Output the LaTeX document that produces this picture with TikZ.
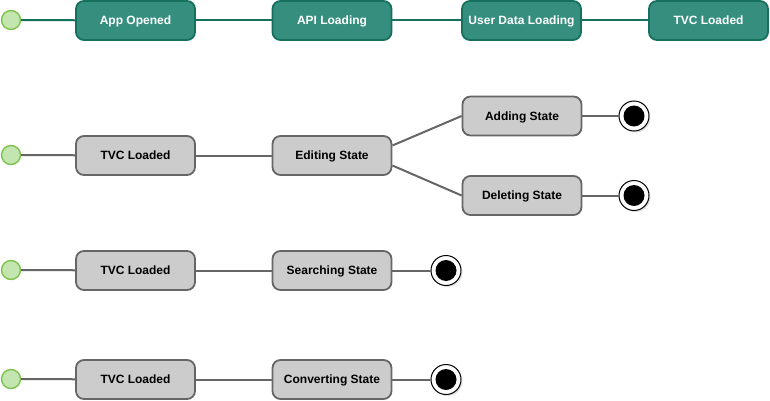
\documentclass[tikz,border=0pt]{standalone}
\usepackage{fontspec}
\setmainfont{Liberation Sans}
\usetikzlibrary{shadows}
\definecolor{tealfill}{HTML}{368F7E}
\definecolor{tealdraw}{HTML}{15705D}
\definecolor{tealline}{HTML}{12705C}
\definecolor{startfill}{HTML}{C3E5B0}
\definecolor{startdraw}{HTML}{7DC24B}
\definecolor{grayfill}{HTML}{CCCCCC}
\definecolor{graydraw}{HTML}{666666}
\tikzset{
  every node/.style={font=\fontsize{12}{14}\selectfont\bfseries},
  tealbox/.style={draw=tealdraw, fill=tealfill, text=white, line width=1.8pt, rounded corners=8pt, minimum width=119pt, minimum height=39pt, inner sep=0pt, text height=8.6pt, text depth=0pt},
  graybox/.style={draw=graydraw, fill=grayfill, text=black, line width=1.8pt, rounded corners=8pt, minimum width=119pt, minimum height=39pt, inner sep=0pt, text height=8.6pt, text depth=0pt},
  startnode/.style={circle, draw=startdraw, fill=startfill, line width=1.4pt, minimum size=19pt, inner sep=0pt},
  endnode/.style={circle, draw=black, fill=white, line width=1pt, minimum size=30pt, inner sep=0pt, drop shadow={shadow xshift=1.5pt, shadow yshift=-1.5pt, opacity=0.25}},
  tealedge/.style={draw=tealline, line width=2pt},
  grayedge/.style={draw=graydraw, line width=2pt},
}
\begin{document}
\begin{tikzpicture}[x=1pt, y=-1pt]
\useasboundingbox (0,0) rectangle (770,401);
% row 1
\node[startnode] (s1) at (11,20) {};
\node[tealbox] (a1) at (135.5,20.5) {App Opened};
\node[tealbox] (a2) at (332,20.5) {API Loading};
\node[tealbox] (a3) at (521.5,20.5) {User Data Loading};
\node[tealbox] (a4) at (708.5,20.5) {TVC Loaded};
\draw[tealedge] (s1) -- (a1);
\draw[tealedge] (a1) -- (a2);
\draw[tealedge] (a2) -- (a3);
\draw[tealedge] (a3) -- (a4);
% row 2
\node[startnode] (s2) at (11,155) {};
\node[graybox] (b1) at (135.5,155.5) {TVC Loaded};
\node[graybox] (b2) at (332,155.5) {Editing State};
\node[graybox] (b3) at (522,116) {Adding State};
\node[graybox] (b4) at (522,195.5) {Deleting State};
\node[endnode] (e3) at (634,116) {};
\fill (e3) circle (10.5pt);
\node[endnode] (e4) at (634,195.5) {};
\fill (e4) circle (10.5pt);
\draw[grayedge] (s2) -- (b1);
\draw[grayedge] (b1) -- (b2);
\draw[grayedge] ([yshift=10pt]b2.east) -- (b3.west);
\draw[grayedge] ([yshift=-10pt]b2.east) -- (b4.west);
\draw[grayedge] (b3) -- (e3);
\draw[grayedge] (b4) -- (e4);
% row 3
\node[startnode] (s3) at (11,270) {};
\node[graybox] (c1) at (135.5,270.5) {TVC Loaded};
\node[graybox] (c2) at (332,270.5) {Searching State};
\node[endnode] (e5) at (446,270.5) {};
\fill (e5) circle (10.5pt);
\draw[grayedge] (s3) -- (c1);
\draw[grayedge] (c1) -- (c2);
\draw[grayedge] (c2) -- (e5);
% row 4
\node[startnode] (s4) at (11,379) {};
\node[graybox] (d1) at (135.5,379.5) {TVC Loaded};
\node[graybox] (d2) at (332,379.5) {Converting State};
\node[endnode] (e6) at (446,379.5) {};
\fill (e6) circle (10.5pt);
\draw[grayedge] (s4) -- (d1);
\draw[grayedge] (d1) -- (d2);
\draw[grayedge] (d2) -- (e6);
\end{tikzpicture}
\end{document}
